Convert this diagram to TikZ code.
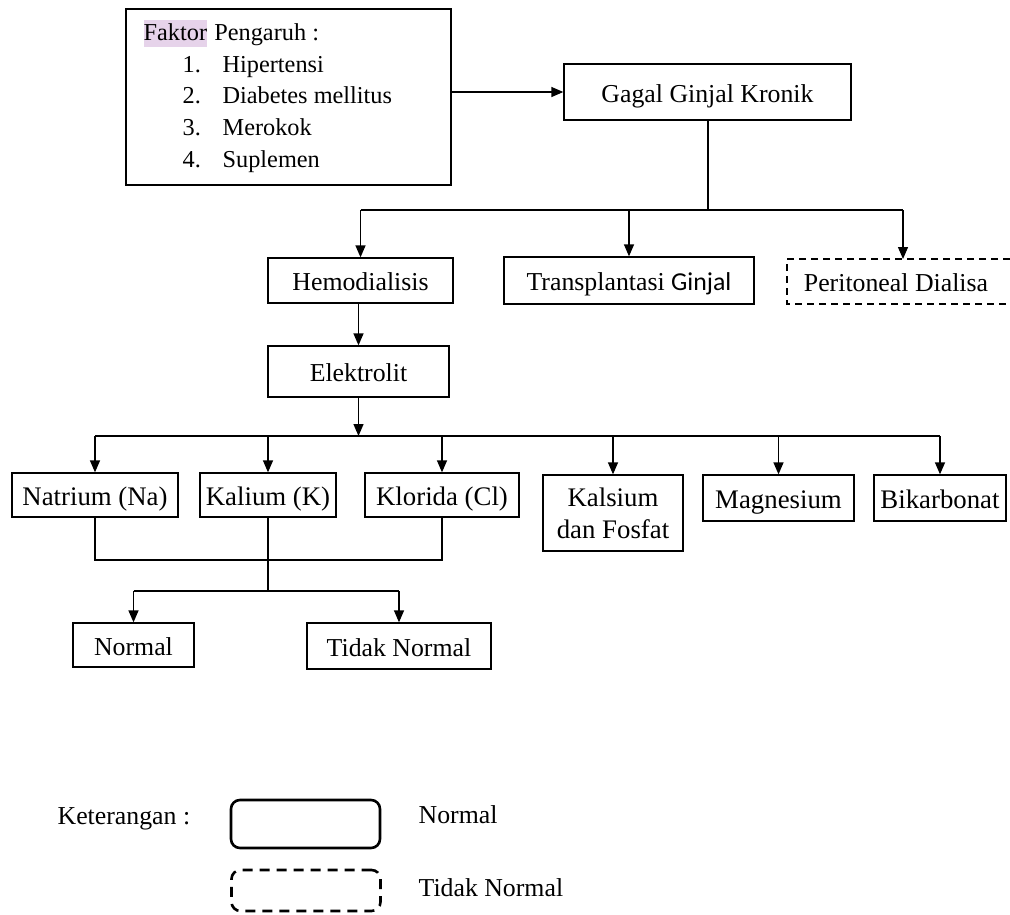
\documentclass[tikz,border=0pt]{standalone}
\usepackage{fontspec}
\setmainfont{Liberation Serif}
\newfontfamily\calib{Carlito}
\usetikzlibrary{arrows.meta}
\definecolor{hl}{HTML}{E6D3EA}
\begin{document}
\begin{tikzpicture}[x=1pt,y=-1pt,
  font=\fontsize{25.8}{32}\selectfont,
  line width=1.3pt,
  bx/.style n args={2}{draw, line width=1.3pt, inner sep=0pt, minimum width=#1, minimum height=#2, align=center, text height=20pt, text depth=0pt},
  bx2/.style n args={2}{draw, line width=1.3pt, inner sep=0pt, minimum width=#1, minimum height=#2, align=center},
  rowtxt/.style={font=\fontsize{26.8}{32}\selectfont},
  listtxt/.style={font=\fontsize{24.3}{32}\selectfont, anchor=base west, inner sep=0pt},
  arr/.style={-{Triangle[length=12pt,width=10pt]}},
  lg/.style={draw, line width=2.6pt, rounded corners=9pt, minimum width=149pt, minimum height=#1, inner sep=0pt}
]
\useasboundingbox (0,0) rectangle (1010,914);

% Faktor box
\node[bx2={325pt}{176pt}] (faktor) at (288.5,97) {};
\node[listtxt, fill=hl, minimum height=27pt, text depth=4pt] (fk) at (143,40) {Faktor};
\node[listtxt] (fp) at ([xshift=6pt]fk.base east) {Pengaruh :};
\node[listtxt] (n1) at (182,72) {1.};
\node[listtxt] (t1) at (222,72) {Hipertensi};
\node[listtxt] (n2) at (182,103) {2.};
\node[listtxt] (t2) at (222,103) {Diabetes mellitus};
\node[listtxt] (n3) at (182,135) {3.};
\node[listtxt] (t3) at (222,135) {Merokok};
\node[listtxt] (n4) at (182,167) {4.};
\node[listtxt] (t4) at (222,167) {Suplemen};

% main
\node[bx={287pt}{56pt}] (gagal) at (707.5,92) {Gagal Ginjal Kronik};
\node[bx={185pt}{45pt}] (hemo) at (360.5,280.5) {Hemodialisis};
\node[bx={250pt}{47pt}] (trans) at (629,280.5) {Transplantasi {\calib Ginjal}};
\node[inner sep=0pt, text height=20pt, text depth=0pt] (peri) at (896,281.5) {Peritoneal Dialisa};
\draw[dash pattern=on 7pt off 5pt] (1010,259) -- (787,259) -- (787,304) -- (1010,304);
\coordinate (perin) at (903,259);
\node[bx={181pt}{51pt}] (elek) at (358.5,371.5) {Elektrolit};

% elements
\node[bx={166pt}{44pt}, rowtxt] (na) at (95,495) {Natrium (Na)};
\node[bx={136pt}{44pt}, rowtxt] (k) at (268,495) {Kalium (K)};
\node[bx={154pt}{44pt}, rowtxt] (cl) at (442,495) {Klorida (Cl)};
\node[bx2={140pt}{76pt}, rowtxt] (ca) at (613,513) {Kalsium\\dan Fosfat};
\node[bx={151pt}{46pt}, rowtxt] (mg) at (778.5,498) {Magnesium};
\node[bx={132pt}{46pt}, rowtxt] (bk) at (940,498) {Bikarbonat};

\node[bx={121pt}{44pt}] (norm) at (133.5,645) {Normal};
\node[bx={184pt}{46pt}] (tn) at (399,646) {Tidak Normal};

% connectors
\draw[arr] (faktor.east |- gagal.west) -- (gagal.west);
\coordinate (j1) at (708,210);
\draw (gagal.south -| j1) -- (j1);
\draw (hemo.north |- j1) -- (perin |- j1);
\draw[arr] (hemo.north |- j1) -- (hemo.north);
\draw[arr] (trans.north |- j1) -- (trans.north);
\draw[arr] (perin |- j1) -- (perin);

\draw[arr] (hemo.south -| elek.north) -- (elek.north);
\coordinate (j2) at (358.5,436);
\draw[arr] (elek.south) -- (j2);
\draw (na.north |- j2) -- (bk.north |- j2);
\foreach \n in {na,k,cl,ca,mg,bk}{
  \draw[arr] (\n.north |- j2) -- (\n.north);
}
\coordinate (j3) at (268,560);
\draw (na.south) -- (na.south |- j3) -- (cl.south |- j3) -- (cl.south);
\draw (k.south) -- (j3);
\coordinate (j4) at (268,591);
\draw (j3) -- (j4);
\draw (norm.north |- j4) -- (tn.north |- j4);
\draw[arr] (norm.north |- j4) -- (norm.north);
\draw[arr] (tn.north |- j4) -- (tn.north);

% legend
\node[anchor=base west, inner sep=0pt] (ket) at (57,824) {Keterangan :};
\node[lg={48pt}] (lgn) at (305.5,824) {};
\node[lg={41pt}, dash pattern=on 10pt off 7pt] (lgt) at (306,890.5) {};
\node[anchor=base west, inner sep=0pt] (lnt) at (418,823) {Normal};
\node[anchor=base west, inner sep=0pt] (ltt) at (418,896) {Tidak Normal};
\end{tikzpicture}
\end{document}
